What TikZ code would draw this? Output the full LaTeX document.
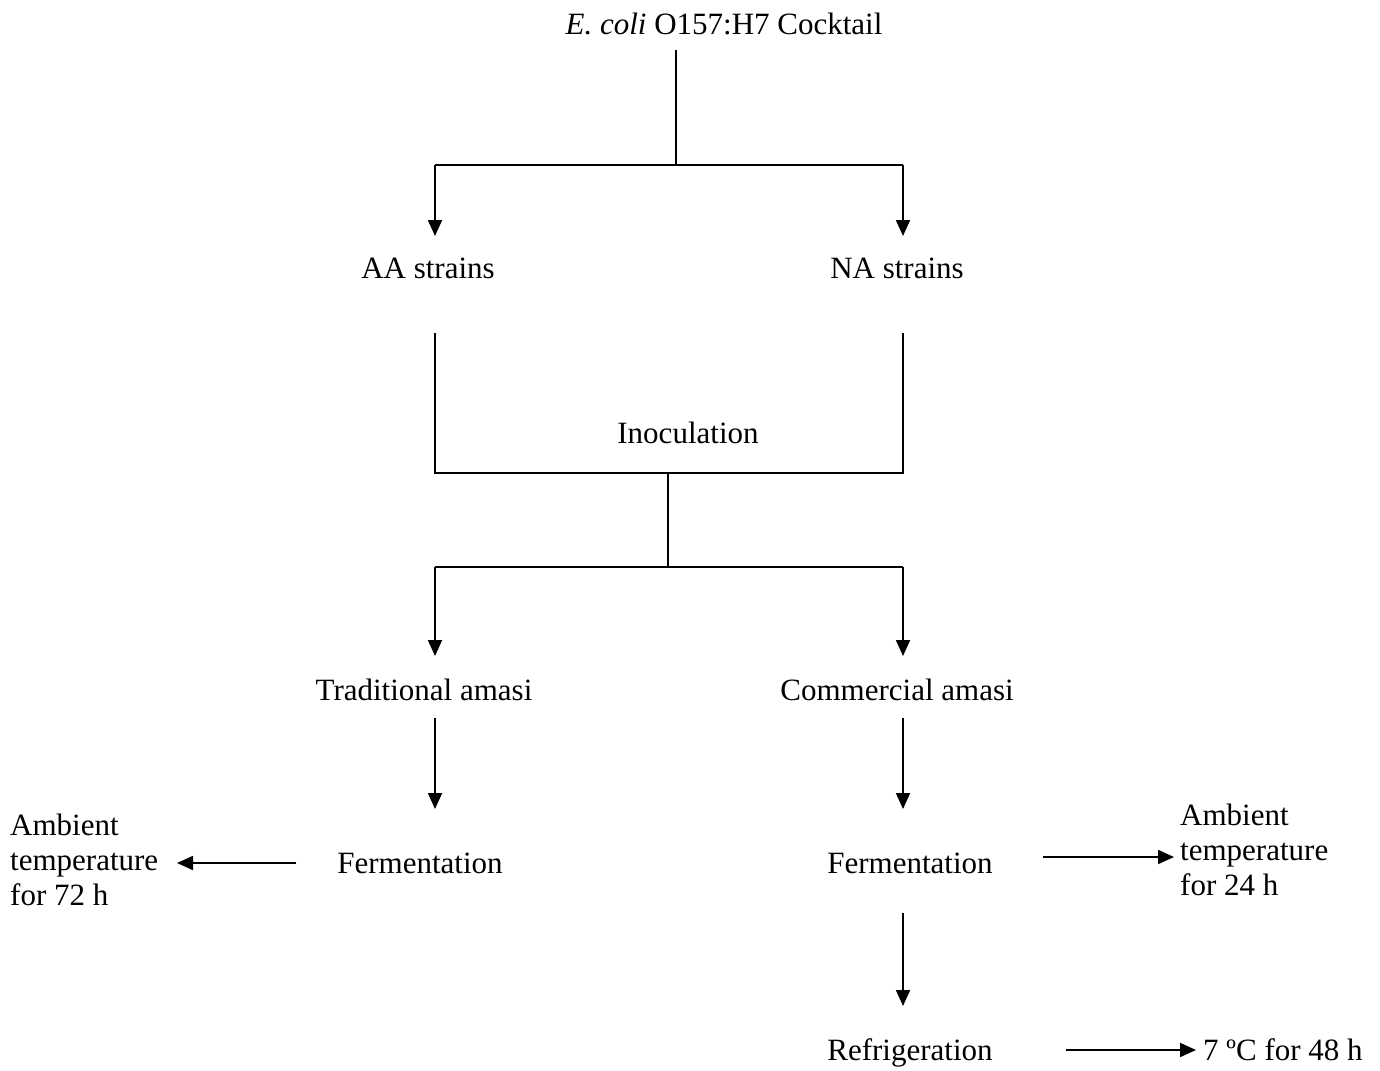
\documentclass[tikz,border=0pt]{standalone}
\usepackage{fontspec}
\setmainfont{Liberation Serif}
\usetikzlibrary{arrows.meta}
\begin{document}
\begin{tikzpicture}[x=1pt,y=-1pt,
  lbl/.style={inner sep=0pt,anchor=base,font=\fontsize{31}{35}\selectfont},
  lblL/.style={inner sep=0pt,anchor=north west,align=left,font=\fontsize{31}{35}\selectfont},
  ln/.style={line width=1.8pt},
  arr/.style={line width=1.8pt,-{Triangle[length=16pt,width=14pt]}}]
\useasboundingbox (0,0) rectangle (1380,1070);
% text nodes
\node[lbl] (title) at (724,35) {\textit{E. coli} O157:H7 Cocktail};
\node[lbl] (aa) at (428,278) {AA strains};
\node[lbl] (na) at (897,278) {NA strains};
\node[lbl] (inoc) at (688,443) {Inoculation};
\node[lbl] (trad) at (424,700) {Traditional amasi};
\node[lbl] (comm) at (897,700) {Commercial amasi};
\node[lbl] (fermL) at (420,873) {Fermentation};
\node[lbl] (fermR) at (910,873) {Fermentation};
\node[lbl] (refr) at (910,1060) {Refrigeration};
\node[lblL] (ambL) at (10,814) {Ambient\\temperature\\for 72 h};
\node[lblL] (ambR) at (1180,804) {Ambient\\temperature\\for 24 h};
\node[lbl,anchor=base west] (seven) at (1203,1060) {7 ºC for 48 h};
% coordinates
\coordinate (t0) at (676,50);
\coordinate (t1) at (676,165);
\coordinate (s1L) at (435,165);
\coordinate (s1R) at (903,165);
\coordinate (aaTop) at (435,236);
\coordinate (naTop) at (903,236);
\coordinate (aaBot) at (435,333);
\coordinate (naBot) at (903,333);
\coordinate (jL) at (435,473);
\coordinate (jR) at (903,473);
\coordinate (jM) at (668,473);
\coordinate (s2M) at (668,567);
\coordinate (s2L) at (435,567);
\coordinate (s2R) at (903,567);
\coordinate (tradTop) at (435,656);
\coordinate (commTop) at (903,656);
\coordinate (tradBot) at (435,718);
\coordinate (commBot) at (903,718);
\coordinate (fLTop) at (435,809);
\coordinate (fRTop) at (903,809);
\coordinate (fLa) at (296,863);
\coordinate (fLb) at (177,863);
\coordinate (fRa) at (1043,857);
\coordinate (fRb) at (1174,857);
\coordinate (fRBot) at (903,913);
\coordinate (rTop) at (903,1006);
\coordinate (ra) at (1066,1050);
\coordinate (rb) at (1196,1050);
% connectors
\draw[ln] (t0) -- (t1);
\draw[ln] (s1L) -- (s1R);
\draw[arr] (s1L) -- (aaTop);
\draw[arr] (s1R) -- (naTop);
\draw[ln] (aaBot) -- (jL) -- (jR) -- (naBot);
\draw[ln] (jM) -- (s2M);
\draw[ln] (s2L) -- (s2R);
\draw[arr] (s2L) -- (tradTop);
\draw[arr] (s2R) -- (commTop);
\draw[arr] (tradBot) -- (fLTop);
\draw[arr] (commBot) -- (fRTop);
\draw[arr] (fLa) -- (fLb);
\draw[arr] (fRa) -- (fRb);
\draw[arr] (fRBot) -- (rTop);
\draw[arr] (ra) -- (rb);
\end{tikzpicture}
\end{document}
